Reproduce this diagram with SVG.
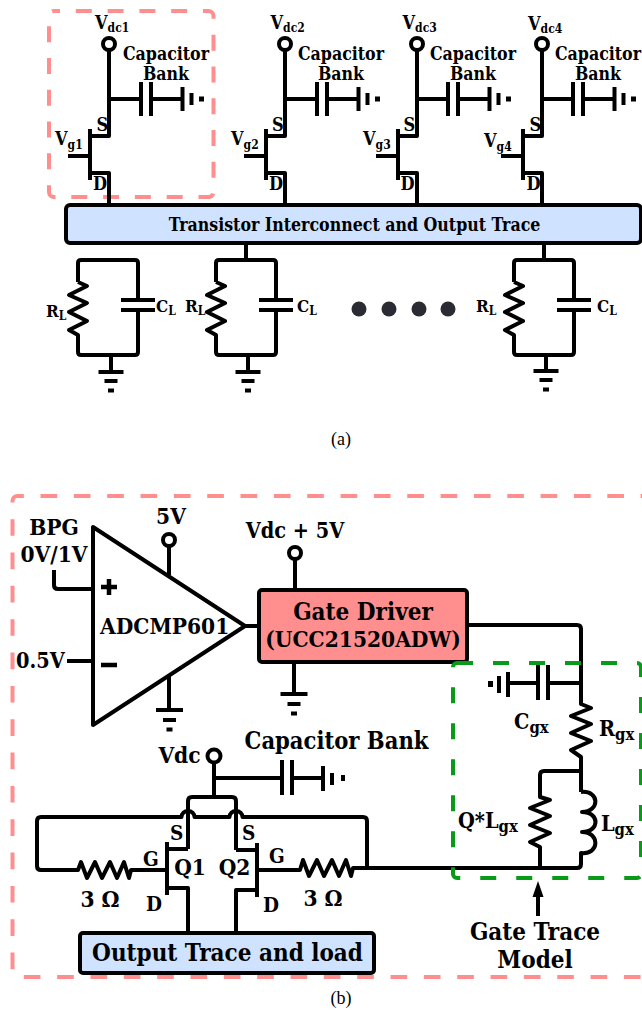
<svg xmlns="http://www.w3.org/2000/svg" width="642" height="1013" viewBox="0 0 642 1013">
<style>
.w{fill:none;stroke:#000;stroke-width:4;stroke-linejoin:round;stroke-linecap:butt}
.o{fill:#fff;stroke:#000;stroke-width:4}
.p{fill:#000;stroke:none}
.dp{fill:none;stroke:#ff8f8f;stroke-width:4}
.dg{fill:none;stroke:#0a9a1a;stroke-width:4;stroke-dasharray:16 20}
text{font-family:"DejaVu Serif Condensed","DejaVu Serif",serif;font-stretch:condensed;font-weight:700;fill:#000}
.s17{font-size:17.6px}.s18{font-size:18px}.s20{font-size:20.500px}.s21{font-size:21.500px}.s22{font-size:22.500px}.s23{font-size:23.500px}.s24{font-size:24px}
.sub{font-size:12px}.sub2{font-size:16.500px}.rl{font-size:17px}
.cap{font-family:"Liberation Serif",serif;font-weight:400;font-size:18px;font-stretch:normal}
</style>
<defs>
<g id="capbank"><path class="w" d="M0 0H32M42 -17V17M32 -17V17M42 0H73.500M73.500 -12V12M82.500 -6V6"/><rect class="p" x="90" y="-2.500" width="5" height="5"/></g>
<g id="gnd"><path class="w" d="M-12.500 0H12.500M-6.500 9H6.500M-3 18.500H3"/></g>
<g id="gnd2"><path class="w" d="M-13.500 0H13.500M-6.500 10H6.500M-3 19.500H3"/></g>
<g id="fet"><path class="w" d="M109 50V136H90M90 129V180M68 156H90M90 173H109V205"/></g>
<g id="rl"><path class="w" d="M-30 39V20Q-30 17 -27 17H27Q30 17 30 20V57M30 67V109Q30 112 27 112H-27Q-30 112 -30 109V92L-39 87L-21 78L-39 69L-21 60L-39 52L-21 43L-30 39M13 57H47M13 67H47"/></g>
</defs>

<g id="connectors">
<path class="w" d="M109 205V243M246 243V260M544 243V260"/>
<path class="w" d="M245 626H259M169 546V575M295 559V590M54 570V585Q54 589 58 589H93M67 661H93M169 675V710M294 662V694"/>
<path class="w" d="M467 625H577Q581 625 581 629V704L591 708L571 716L591 724L571 733L591 741L571 750L581 757V792"/>
<path class="w" d="M581 771H544Q540 771 540 775V797L550 800L530 808L550 816L530 825L550 833L530 842L540 847V868"/>
<path class="w" d="M581 792C600 790 600 812 582 812C600 812 600 832 582 832C600 832 600 855 581 853V864Q581 868 577 868H367"/>
<path class="w" d="M581 683H548M538 683H508M548 665V700M538 665V700M508 672V697M499 676V693"/>
<rect class="p" x="488" y="681" width="5" height="6"/>
<path class="w" d="M214 762V797M214 778H282M282 760V795M292 760V795M292 778H323M323 766V791M332 773V785"/>
<rect class="p" x="341" y="775" width="4" height="6"/>
<path class="w" d="M188 849V801Q188 797 192 797H232Q236 797 236 801V850"/>
<path class="w" d="M367 868V821Q367 817 363 817H242.500A6.500 6 0 0 0 229.500 817H194.500A6.500 6 0 0 0 181.500 817H41Q37 817 37 821V866Q37 870 41 870H78L81 862L87 878L95 862L102 878L110 862L117 878L124 862L129 878L131 870H166"/>
<path class="w" d="M257 870H300L303 860L309 876L317 860L324 876L332 860L339 876L346 860L351 876L353 868H367"/>
<path class="w" d="M188 849H167M167 842V895M167 888H188V933M236 850H257M257 843V897M257 890H236V933"/>
<path class="w" d="M538 916V894"/><path class="p" d="M538 881L543.500 897H532.500Z"/>
</g>

<rect class="dp" x="49" y="11" width="164.500" height="186" rx="5" stroke-dasharray="16 15.800" stroke-dashoffset="10"/>
<g id="cell1"><use href="#fet" x="0" y="0"/><circle class="o" cx="109" cy="44" r="6"/><use href="#capbank" x="109" y="99"/>
<text class="s18" x="95" y="29">V<tspan class="sub" dy="3">dc1</tspan></text>
<text class="s17" x="166" y="60" text-anchor="middle">Capacitor</text><text class="s17" x="166" y="80" text-anchor="middle">Bank</text>
<text class="s18" x="96.500" y="131">S</text><text class="s18" x="93" y="190">D</text>
<text class="s18" x="55" y="145">V<tspan class="sub" dy="4">g1</tspan></text></g>
<g id="cell2"><use href="#fet" x="176" y="0"/><circle class="o" cx="285" cy="44" r="6"/><use href="#capbank" x="285" y="99"/>
<text class="s18" x="270.500" y="29">V<tspan class="sub" dy="3">dc2</tspan></text>
<text class="s17" x="341" y="60" text-anchor="middle">Capacitor</text><text class="s17" x="341" y="80" text-anchor="middle">Bank</text>
<text class="s18" x="272" y="131">S</text><text class="s18" x="269" y="190">D</text>
<text class="s18" x="231" y="145">V<tspan class="sub" dy="4">g2</tspan></text></g>
<g id="cell3"><use href="#fet" x="308" y="0"/><circle class="o" cx="417" cy="44" r="6"/><use href="#capbank" x="416" y="99"/>
<text class="s18" x="402.500" y="29">V<tspan class="sub" dy="3">dc3</tspan></text>
<text class="s17" x="473" y="60" text-anchor="middle">Capacitor</text><text class="s17" x="473" y="80" text-anchor="middle">Bank</text>
<text class="s18" x="403.500" y="131">S</text><text class="s18" x="400.500" y="190">D</text>
<text class="s18" x="363" y="145">V<tspan class="sub" dy="4">g3</tspan></text></g>
<g id="cell4"><use href="#fet" x="433" y="0"/><circle class="o" cx="542" cy="44" r="6"/><use href="#capbank" x="541" y="99"/>
<text class="s18" x="528" y="30">V<tspan class="sub" dy="3">dc4</tspan></text>
<text class="s17" x="598" y="60" text-anchor="middle">Capacitor</text><text class="s17" x="598" y="80" text-anchor="middle">Bank</text>
<text class="s18" x="529.500" y="131">S</text><text class="s18" x="526.500" y="190">D</text>
<text class="s18" x="484" y="147">V<tspan class="sub" dy="4">g4</tspan></text></g>

<g id="interconnect"><rect x="66" y="205" width="575" height="38" rx="4" fill="#cfe2ff" stroke="#000" stroke-width="4"/>
<text class="s17" x="354.500" y="231" text-anchor="middle">Transistor Interconnect and Output Trace</text></g>

<g id="load1"><use href="#rl" x="108" y="243"/><use href="#gnd" x="111" y="372"/><path class="w" d="M111 355V372"/>
<text class="rl" x="46" y="317">R<tspan class="sub" dy="3">L</tspan></text><text class="rl" x="156" y="312">C<tspan class="sub" dy="3">L</tspan></text></g>
<g id="load2"><use href="#rl" x="246" y="243"/><use href="#gnd" x="248" y="372"/><path class="w" d="M248 355V372"/>
<text class="rl" x="185" y="312">R<tspan class="sub" dy="3">L</tspan></text><text class="rl" x="297" y="312">C<tspan class="sub" dy="3">L</tspan></text></g>
<g id="load3"><use href="#rl" x="544" y="243"/><use href="#gnd" x="546" y="371"/><path class="w" d="M546 355V371"/>
<text class="rl" x="476" y="312">R<tspan class="sub" dy="3">L</tspan></text><text class="rl" x="597" y="312">C<tspan class="sub" dy="3">L</tspan></text></g>
<g id="dots" fill="#2b2b33"><circle cx="359" cy="309" r="7.500"/><circle cx="389" cy="309" r="7.500"/><circle cx="419" cy="309" r="7.500"/><circle cx="448" cy="309" r="7.500"/></g>
<text class="cap" x="341" y="445" text-anchor="middle">(a)</text>

<rect class="dp" x="12.500" y="496" width="640" height="481" rx="5" stroke-dasharray="16.670 16.670" stroke-dashoffset="10.330"/>
<g id="comparator"><path d="M93 527V725L245 626Z" fill="#fff" stroke="#000" stroke-width="4" stroke-linejoin="round"/>
<text class="s22" x="100" y="634">ADCMP601</text>
<path class="w" style="stroke-width:4.500" d="M101 587H117M109 579V595M101 665H117"/>
<circle class="o" cx="169" cy="540" r="6"/><use href="#gnd2" x="169.500" y="710"/>
<text class="s22" x="171" y="524" text-anchor="middle">5V</text>
<text class="s22" x="54" y="535" text-anchor="middle">BPG</text><text class="s22" x="54" y="562" text-anchor="middle">0V/1V</text>
<text class="s21" x="16" y="668">0.5V</text></g>
<g id="driver"><rect x="259" y="590" width="208" height="72" rx="3" fill="#ff8f8f" stroke="#000" stroke-width="4"/>
<text class="s24" x="363" y="620" text-anchor="middle">Gate Driver</text><text class="s22" x="363" y="647" text-anchor="middle">(UCC21520ADW)</text>
<circle class="o" cx="295" cy="553" r="6"/><use href="#gnd2" x="294" y="694"/>
<text class="s21" x="295" y="538" text-anchor="middle">Vdc + 5V</text></g>
<g id="vdc"><circle class="o" cx="214" cy="756" r="6.500"/><text class="s22" x="179.500" y="763" text-anchor="middle">Vdc</text>
<text class="s23" x="336.500" y="749" text-anchor="middle">Capacitor Bank</text></g>
<g id="q1"><text class="s20" x="170" y="840">S</text><text class="s20" x="143" y="866">G</text><text class="s20" x="146" y="911">D</text><text class="s22" x="190" y="875" text-anchor="middle">Q1</text><text class="s22" x="100" y="907" text-anchor="middle">3 Ω</text></g>
<g id="q2"><text class="s20" x="242" y="840">S</text><text class="s20" x="269" y="863">G</text><text class="s20" x="263" y="912">D</text><text class="s22" x="234.500" y="875" text-anchor="middle">Q2</text><text class="s22" x="323" y="906" text-anchor="middle">3 Ω</text></g>
<g id="output"><rect x="80" y="933" width="294" height="40" rx="3" fill="#cfe2ff" stroke="#000" stroke-width="4"/>
<text class="s24" x="227.500" y="961" text-anchor="middle">Output Trace and load</text></g>
<rect class="dg" x="453" y="663" width="188" height="215" rx="4"/>
<g id="gate-model">
<text class="s21" x="514" y="729">C<tspan class="sub2" dy="4">gx</tspan></text>
<text class="s21" x="599" y="736">R<tspan class="sub2" dy="4">gx</tspan></text>
<text class="s21" x="458" y="828">Q*L<tspan class="sub2" dy="4">gx</tspan></text>
<text class="s21" x="601" y="831">L<tspan class="sub2" dy="4">gx</tspan></text>
<text class="s24" x="535" y="940" text-anchor="middle">Gate Trace</text><text class="s24" x="535" y="968" text-anchor="middle">Model</text></g>
<text class="cap" x="341" y="1004" text-anchor="middle">(b)</text>
</svg>
